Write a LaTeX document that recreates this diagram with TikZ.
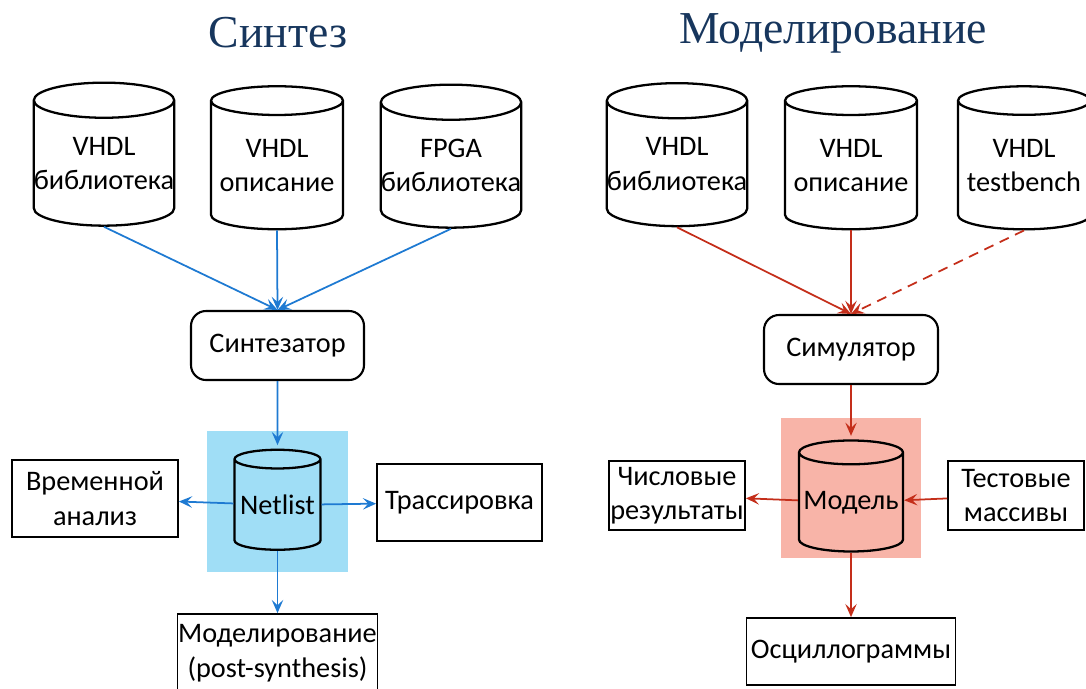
\documentclass[tikz,border=0pt]{standalone}
\usepackage{fontspec}
\setmainfont{Carlito}
\newfontfamily\headfont{Liberation Serif}
\usetikzlibrary{shapes.geometric,arrows.meta}

\definecolor{headblue}{RGB}{23,54,93}
\definecolor{synblue}{RGB}{30,122,210}
\definecolor{simred}{RGB}{196,46,26}
\definecolor{netfill}{RGB}{160,222,246}
\definecolor{modfill}{RGB}{248,180,168}

\begin{document}
\begin{tikzpicture}[
  every node/.style={font=\fontsize{16.1}{19.6}\selectfont, align=center},
  db/.style={cylinder, shape border rotate=90, aspect=0.25, draw, line width=1.3pt, inner sep=0pt},
  proc/.style={draw, rounded corners=0.3cm, line width=1.2pt, inner sep=0pt},
  res/.style={draw, line width=1pt, inner sep=0pt},
  bflow/.style={draw=synblue, line width=1pt, -{Stealth[length=7.5pt,width=6.5pt,inset=3pt]}},
  rflow/.style={draw=simred, line width=1pt, -{Stealth[length=7.5pt,width=6.5pt,inset=3pt]}}
]
\useasboundingbox (0,0) rectangle (21.72,-13.76);

% titles
\node (tsyn) at (5.56,-0.66) {\headfont\fontsize{26}{30}\selectfont\color{headblue}Синтез};
\node (tsim) at (16.66,-0.66) {\headfont\fontsize{26}{30}\selectfont\color{headblue}Моделирование};

% synthesis
\node[fill=netfill, minimum width=2.82cm, minimum height=2.82cm] (bgl) at (5.55,-10.03) {};
\node[db, minimum width=2.64cm, minimum height=2.86cm] (lib1) at (2.08,-3.27) {VHDL\\библиотека};
\node[db, minimum width=2.64cm, minimum height=2.86cm] (src1) at (5.54,-3.31) {VHDL\\описание};
\node[db, minimum width=2.64cm, minimum height=2.86cm] (fpga) at (9.02,-3.31) {FPGA\\библиотека};
\node[proc, minimum width=3.46cm, minimum height=1.38cm] (synth) at (5.55,-6.91) {Синтезатор};
\node[db, fill=netfill, minimum width=1.72cm, minimum height=2.0cm] (net) at (5.55,-10.10) {Netlist};
\node[res, minimum width=3.32cm, minimum height=1.54cm] (tim) at (1.90,-9.97) {Временной\\анализ};
\node[res, minimum width=3.30cm, minimum height=1.54cm] (route) at (9.19,-10.05) {Трассировка};
\node[res, minimum width=4.0cm, minimum height=1.56cm] (post) at (5.55,-13.06) {Моделирование\\(post-synthesis)};

\draw[bflow] (lib1.south) -- (synth.north);
\draw[bflow] (src1.south) -- (synth.north);
\draw[bflow] (fpga.south) -- (synth.north);
\draw[bflow] (synth.south) -- ([yshift=2pt]net.north);
\draw[bflow] (net) -- (tim);
\draw[bflow] (net) -- (route);
\draw[bflow] (net.south) -- (post.north);

% simulation
\node[fill=modfill, minimum width=2.8cm, minimum height=2.8cm] (bgr) at (17.02,-9.76) {};
\node[db, minimum width=2.64cm, minimum height=2.86cm] (lib2) at (13.54,-3.28) {VHDL\\библиотека};
\node[db, minimum width=2.64cm, minimum height=2.86cm] (src2) at (17.02,-3.31) {VHDL\\описание};
\node[db, minimum width=2.64cm, minimum height=2.86cm] (tb) at (20.48,-3.31) {VHDL\\testbench};
\node[proc, minimum width=3.48cm, minimum height=1.38cm] (sim) at (17.02,-6.99) {Симулятор};
\node[db, fill=modfill, minimum width=2.08cm, minimum height=2.22cm] (model) at (17.02,-10.05) {Модель};
\node[res, minimum width=2.72cm, minimum height=1.38cm] (num) at (13.54,-9.91) {Числовые\\результаты};
\node[res, minimum width=2.72cm, minimum height=1.38cm] (vec) at (20.32,-9.91) {Тестовые\\массивы};
\node[res, minimum width=4.18cm, minimum height=1.34cm] (wave) at (17.02,-13.03) {Осциллограммы};

\draw[rflow] (lib2.south) -- (sim.north);
\draw[rflow] (src2.south) -- (sim.north);
\draw[rflow, dash pattern=on 0.2cm off 0.14cm] (tb.south) -- (sim.north);
\draw[rflow] (sim.south) -- ([yshift=2pt]model.north);
\draw[rflow] (model) -- (num);
\draw[rflow] (vec) -- (model);
\draw[rflow] (model.south) -- (wave.north);
\end{tikzpicture}
\end{document}
